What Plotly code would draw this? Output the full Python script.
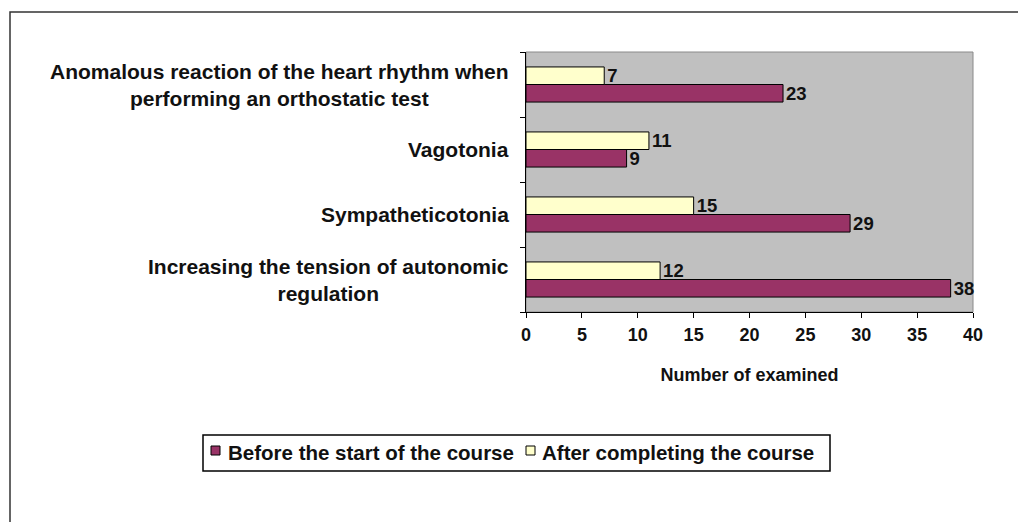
import plotly.graph_objects as go

# Categories listed bottom-to-top on the axis
categories = [
    "Increasing the tension of autonomic<br>regulation",
    "Sympatheticotonia",
    "Vagotonia",
    "Anomalous reaction of the heart rhythm when<br>performing an orthostatic test",
]
before_course = [38, 29, 9, 23]
after_course = [12, 15, 11, 7]
x_ticks = [0, 5, 10, 15, 20, 25, 30, 35, 40]
series_names = ["Before the start of the course", "After completing the course"]

FONT = "Arial, Liberation Sans, sans-serif"
TEXT = "#111111"
PURPLE = "#993366"
CREAM = "#FFFFCC"
series_colors = [PURPLE, CREAM]

# Plot-area geometry in pixels, used to place the frame and legend box
L, R, T, B = 526, 973, 52, 312
W, H = R - L, B - T


def px_x(p):
    return (p - L) / W


def px_y(p):
    return (B - p) / H


fig = go.Figure()
for name, vals, col in zip(series_names, [before_course, after_course], series_colors):
    fig.add_trace(go.Bar(
        y=categories, x=vals, orientation="h", name=name,
        marker=dict(color=col, line=dict(color="#000000", width=1)),
        text=vals, textposition="outside", cliponaxis=False,
        constraintext="none",
        textfont=dict(family=FONT, size=18.5, color=TEXT, weight="bold"),
        showlegend=False,
    ))

# Category labels, centred line by line and right-aligned to the axis
for cat in categories:
    fig.add_annotation(
        x=0, xref="paper", xanchor="right", xshift=-15,
        y=cat, yref="y", yanchor="middle",
        text=cat, showarrow=False, align="center",
        font=dict(family=FONT, size=21, color=TEXT, weight="bold"),
    )

# Outer frame of the figure
fig.add_shape(type="rect", xref="paper", yref="paper",
              x0=px_x(10), x1=px_x(1030), y0=px_y(540), y1=px_y(12),
              line=dict(color="#333333", width=1.5), layer="below")
# Thin border round the plot area
fig.add_shape(type="rect", xref="paper", yref="paper",
              x0=0, x1=1, y0=0, y1=1,
              line=dict(color="#8a8a8a", width=1), layer="below")

# Legend box with its two swatches and labels
fig.add_shape(type="rect", xref="paper", yref="paper",
              x0=px_x(203), x1=px_x(830), y0=px_y(471), y1=px_y(435),
              line=dict(color="#000000", width=1.5), fillcolor="white")
for sx, tx, name, col in zip([211, 526], [226, 540], series_names, series_colors):
    fig.add_shape(type="rect", xref="paper", yref="paper",
                  x0=px_x(sx), x1=px_x(sx + 9), y0=px_y(455), y1=px_y(446),
                  line=dict(color="#000000", width=1), fillcolor=col)
    fig.add_annotation(
        x=px_x(tx), xref="paper", xanchor="left",
        y=px_y(453), yref="paper", yanchor="middle",
        text=name, showarrow=False,
        font=dict(family=FONT, size=20.5, color=TEXT, weight="bold"),
    )

fig.update_layout(
    width=1018, height=522,
    margin=dict(l=L, r=1018 - R, t=T, b=522 - B),
    paper_bgcolor="white", plot_bgcolor="#C0C0C0",
    barmode="group", bargap=0.46, bargroupgap=0,
    font=dict(family=FONT, color=TEXT),
    showlegend=False,
)
fig.update_xaxes(
    range=[0, 40], tickvals=x_ticks, ticks="outside", ticklen=5,
    tickcolor="#000000", showline=True, linecolor="#000000", linewidth=1,
    showgrid=False, zeroline=False, ticklabelstandoff=1,
    tickfont=dict(family=FONT, size=18, color=TEXT, weight="bold"),
    title=dict(text="Number of examined",
               font=dict(family=FONT, size=18, color=TEXT, weight="bold"),
               standoff=24),
)
fig.update_yaxes(
    categoryorder="array", categoryarray=categories,
    tickson="boundaries", ticks="outside", ticklen=5, tickcolor="#000000",
    showline=True, linecolor="#000000", linewidth=1,
    showticklabels=False, showgrid=False, zeroline=False,
)

fig.write_html("out.html")
